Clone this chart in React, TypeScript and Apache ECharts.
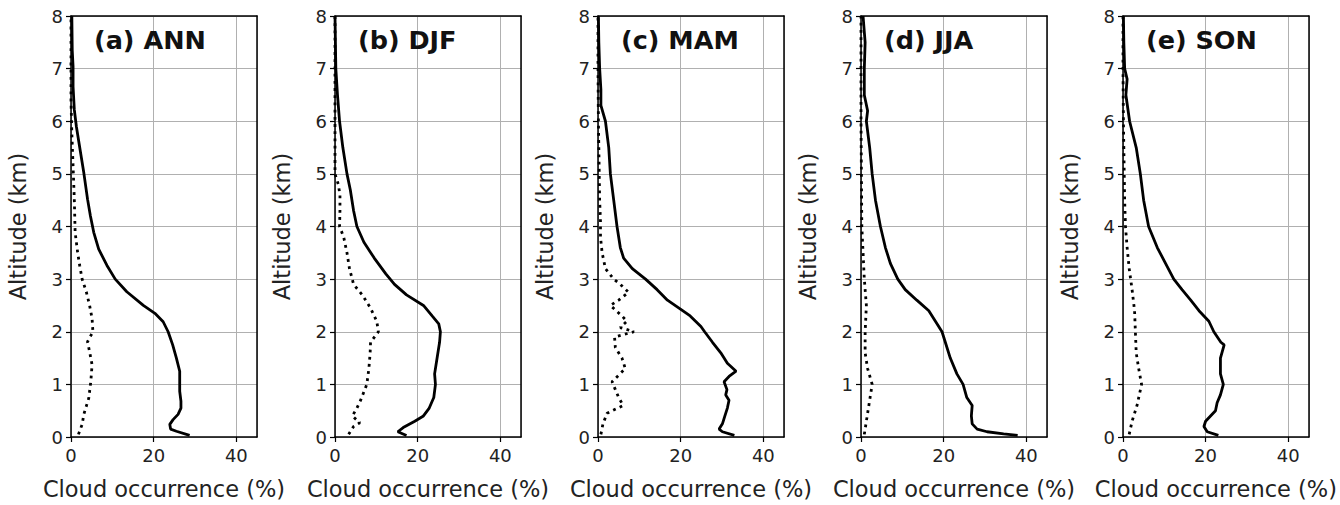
import React, { useEffect, useRef } from "react";
import * as echarts from "echarts";

// [cloud occurrence (%), altitude (km)]
const annSolid: number[][] = [
  [28.7, 0.03], [25.5, 0.11], [24.1, 0.15], [23.9, 0.24], [24.7, 0.33], [25.9, 0.43], [26.6, 0.55],
  [26.6, 0.68], [26.3, 0.87], [26.3, 1.25], [25.5, 1.5], [24.6, 1.75], [23.5, 2.0], [22.3, 2.19],
  [20.3, 2.35], [17.5, 2.5], [13.5, 2.76], [10.7, 3.0], [8.7, 3.26], [6.7, 3.57], [5.5, 3.89],
  [4.7, 4.2], [4.0, 4.52], [3.1, 5.02], [2.2, 5.46], [1.3, 5.9], [0.8, 6.22], [0.5, 6.66],
  [0.5, 7.04], [0.3, 7.35], [0.2, 8.0],
];
const annDotted: number[][] = [
  [1.8, 0.05], [2.7, 0.24], [3.1, 0.43], [4.3, 0.74], [4.8, 1.06], [5.1, 1.37], [4.5, 1.62],
  [4.0, 1.81], [5.3, 2.0], [5.1, 2.25], [4.5, 2.5], [3.7, 2.76], [2.7, 3.0], [2.1, 3.26],
  [1.6, 3.51], [1.0, 3.89], [0.8, 4.52], [0.5, 5.15], [0.2, 5.78], [0, 6.4], [0, 8.0],
];

const djfSolid: number[][] = [
  [17.3, 0.03], [15.2, 0.1], [16.5, 0.18], [19.3, 0.3], [21.4, 0.4], [22.8, 0.55], [23.9, 0.75],
  [24.3, 1.0], [24.1, 1.2], [24.7, 1.5], [25.3, 1.8], [25.5, 2.0], [25.1, 2.15], [23.5, 2.3],
  [21.4, 2.5], [17.3, 2.7], [14.4, 2.9], [12.3, 3.1], [9.5, 3.4], [7.0, 3.7], [5.3, 4.0],
  [4.5, 4.3], [3.7, 4.7], [2.9, 5.0], [1.9, 5.5], [1.1, 6.0], [0.6, 6.5], [0.2, 7.0],
  [0.1, 7.5], [0, 8.0],
];
const djfDotted: number[][] = [
  [3.3, 0.05], [4.5, 0.2], [6.0, 0.27], [4.2, 0.4], [5.3, 0.55], [6.2, 0.7], [7.7, 1.0],
  [8.2, 1.3], [8.5, 1.6], [8.6, 1.8], [10.5, 2.0], [10.1, 2.2], [8.6, 2.45], [6.6, 2.7],
  [4.5, 2.9], [3.5, 3.2], [2.9, 3.5], [2.1, 3.8], [1.1, 4.0], [1.2, 4.3], [1.2, 4.6],
  [0.8, 4.8], [0, 5.0], [0, 8.0],
];

const mamSolid: number[][] = [
  [33.0, 0.03], [30.1, 0.1], [29.3, 0.15], [30.1, 0.25], [30.7, 0.4], [31.3, 0.55], [31.7, 0.7],
  [30.9, 0.8], [31.2, 0.9], [30.5, 1.05], [31.7, 1.15], [33.4, 1.25], [31.3, 1.4], [29.7, 1.6],
  [27.7, 1.8], [25.8, 2.0], [24.9, 2.1], [22.3, 2.3], [19.6, 2.45], [16.8, 2.6], [14.3, 2.8],
  [11.5, 3.0], [8.3, 3.2], [6.2, 3.4], [5.4, 3.6], [4.6, 4.0], [3.8, 4.5], [3.0, 5.0],
  [2.6, 5.5], [1.8, 6.0], [0.7, 6.3], [0.7, 6.6], [0.4, 7.0], [0.2, 7.5], [0.1, 8.0],
];
const mamDotted: number[][] = [
  [0.7, 0.05], [1.2, 0.25], [2.2, 0.45], [6.1, 0.6], [5.0, 0.75], [4.2, 0.9], [3.4, 1.05],
  [6.6, 1.3], [5.8, 1.5], [4.2, 1.7], [4.0, 1.9], [8.7, 2.0], [5.4, 2.08], [7.0, 2.2],
  [5.8, 2.3], [3.0, 2.5], [5.0, 2.6], [7.4, 2.75], [5.4, 2.9], [3.8, 3.0], [1.8, 3.2],
  [1.0, 3.5], [0.6, 3.8], [0.6, 4.1], [0.4, 4.5], [0.3, 5.0], [0.1, 6.0], [0, 7.0], [0, 8.0],
];

const jjaSolid: number[][] = [
  [37.9, 0.03], [34.5, 0.06], [30.5, 0.1], [28.1, 0.15], [26.9, 0.25], [26.7, 0.4], [26.9, 0.6],
  [25.6, 0.75], [24.7, 1.0], [23.2, 1.2], [21.6, 1.5], [20.4, 1.8], [19.6, 2.0], [18.0, 2.2],
  [16.4, 2.4], [13.5, 2.6], [10.7, 2.8], [8.9, 3.0], [7.1, 3.3], [5.9, 3.6], [4.7, 4.0],
  [3.5, 4.5], [2.7, 5.0], [2.1, 5.5], [1.3, 6.0], [1.6, 6.2], [0.8, 6.5], [0.8, 7.0],
  [1.0, 7.5], [0.5, 8.0],
];
const jjaDotted: number[][] = [
  [0.8, 0.05], [1.3, 0.3], [1.9, 0.6], [2.7, 1.0], [1.6, 1.3], [1.0, 1.6], [1.0, 2.0],
  [1.3, 2.5], [0.8, 3.0], [0.5, 3.5], [0.2, 4.0], [0.1, 5.0], [0, 6.0], [0, 8.0],
];

const sonSolid: number[][] = [
  [23.1, 0.03], [20.4, 0.1], [19.6, 0.2], [20.0, 0.3], [21.2, 0.4], [22.4, 0.5], [22.8, 0.65],
  [23.6, 0.8], [24.3, 1.0], [23.6, 1.2], [23.6, 1.5], [24.5, 1.75], [23.7, 1.8], [22.0, 2.0],
  [20.8, 2.2], [18.4, 2.4], [16.4, 2.6], [14.3, 2.8], [12.3, 3.0], [10.3, 3.3], [8.3, 3.6],
  [6.2, 4.0], [5.0, 4.5], [4.2, 5.0], [3.2, 5.5], [1.6, 6.0], [0.7, 6.5], [1.0, 6.8],
  [0.4, 7.0], [0.2, 7.5], [0.1, 8.0],
];
const sonDotted: number[][] = [
  [1.5, 0.05], [2.2, 0.3], [3.4, 0.6], [4.5, 1.0], [3.8, 1.3], [3.2, 1.6], [3.0, 2.0],
  [2.8, 2.4], [2.2, 2.8], [1.5, 3.2], [1.0, 3.6], [0.6, 4.0], [0.4, 4.5], [0.3, 5.0],
  [0.2, 5.5], [0.1, 6.0], [0, 7.0], [0, 8.0],
];

const panelLabels = ["(a) ANN", "(b) DJF", "(c) MAM", "(d) JJA", "(e) SON"];
const solidSeries = [annSolid, djfSolid, mamSolid, jjaSolid, sonSolid];
const dottedSeries = [annDotted, djfDotted, mamDotted, jjaDotted, sonDotted];
const xTitle = "Cloud occurrence (%)";
const yTitle = "Altitude (km)";

const FONT = "'DejaVu Sans', 'Noto Sans', sans-serif";
const GRID_LEFTS = [71, 335, 598, 861, 1123];
const GRID_W = 186;
const GRID_TOP = 16;
const GRID_H = 423;
const GRID_COLOR = "#b0b0b0";
const TEXT_COLOR = "#222";

export default function App() {
  const ref = useRef<HTMLDivElement>(null);
  useEffect(() => {
    if (!ref.current) return;
    const chart = echarts.init(ref.current, undefined, { renderer: "svg" });
    const grid: any[] = [];
    const xAxis: any[] = [];
    const yAxis: any[] = [];
    const series: any[] = [];
    const title: any[] = [];
    GRID_LEFTS.forEach((left, i) => {
      grid.push({ left, top: GRID_TOP, width: GRID_W, height: GRID_H, containLabel: false });
      xAxis.push({
        type: "value", gridIndex: i, min: 0, max: 45, interval: 20, position: "bottom",
        name: xTitle, nameLocation: "middle", nameGap: 40,
        nameTextStyle: { fontFamily: FONT, fontSize: 22.5, color: TEXT_COLOR },
        axisLine: { show: true, onZero: false, lineStyle: { color: "#000", width: 1.5 } },
        axisTick: { show: true, length: 5, lineStyle: { color: "#000", width: 1.2 } },
        axisLabel: { fontFamily: FONT, fontSize: 18, color: TEXT_COLOR, margin: 9 },
        splitLine: { show: true, lineStyle: { color: GRID_COLOR, width: 1 } },
      });
      xAxis.push({
        type: "value", gridIndex: i, min: 0, max: 45, position: "top",
        axisLine: { show: true, onZero: false, lineStyle: { color: "#000", width: 1.5 } },
        axisTick: { show: false }, axisLabel: { show: false }, splitLine: { show: false },
      });
      yAxis.push({
        type: "value", gridIndex: i, min: 0, max: 8, interval: 1, position: "left",
        name: yTitle, nameLocation: "middle", nameGap: 42, nameRotate: 90,
        nameTextStyle: { fontFamily: FONT, fontSize: 22.5, color: TEXT_COLOR },
        axisLine: { show: true, onZero: false, lineStyle: { color: "#000", width: 1.5 } },
        axisTick: { show: true, length: 5, lineStyle: { color: "#000", width: 1.2 } },
        axisLabel: { fontFamily: FONT, fontSize: 18, color: TEXT_COLOR, margin: 8 },
        splitLine: { show: true, lineStyle: { color: GRID_COLOR, width: 1 } },
      });
      yAxis.push({
        type: "value", gridIndex: i, min: 0, max: 8, position: "right",
        axisLine: { show: true, onZero: false, lineStyle: { color: "#000", width: 1.5 } },
        axisTick: { show: false }, axisLabel: { show: false }, splitLine: { show: false },
      });
      series.push({
        type: "line", xAxisIndex: 2 * i, yAxisIndex: 2 * i, data: dottedSeries[i],
        showSymbol: false, symbol: "none",
        lineStyle: { color: "#000", width: 2.8, type: [2.8, 4.4], cap: "butt" },
        z: 3,
      });
      series.push({
        type: "line", xAxisIndex: 2 * i, yAxisIndex: 2 * i, data: solidSeries[i],
        showSymbol: false, symbol: "none",
        lineStyle: { color: "#000", width: 2.8 },
        z: 4,
      });
      title.push({
        text: panelLabels[i], left: left + 18, top: 22,
        textStyle: { fontFamily: FONT, fontSize: 25.5, fontWeight: "bold", color: "#111" },
      });
    });
    chart.setOption({
      animation: false,
      backgroundColor: "#fff",
      title, grid, xAxis, yAxis, series,
    });
    return () => chart.dispose();
  }, []);
  return (
    <div
      ref={ref}
      style={{ position: "absolute", left: 0, top: 0, width: 1340, height: 505 }}
    />
  );
}
